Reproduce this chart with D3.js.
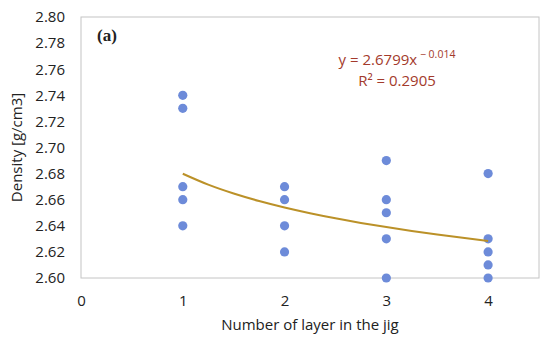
<!DOCTYPE html>
<html>
<head>
<meta charset="utf-8">
<script src="https://cdn.jsdelivr.net/npm/d3@7"></script>
<style>
  body { margin: 0; background: #fff; }
</style>
</head>
<body>
<div id="chart"></div>
<script>
// layer number and measured density
const LAYERS = [1, 1, 1, 1, 1, 2, 2, 2, 2, 3, 3, 3, 3, 3, 4, 4, 4, 4, 4];
const DENSITY = [2.74, 2.73, 2.67, 2.66, 2.64, 2.67, 2.66, 2.64, 2.62, 2.69, 2.66, 2.65, 2.63, 2.60, 2.68, 2.63, 2.62, 2.61, 2.60];
const X_TICKS = [0, 1, 2, 3, 4];
const Y_TICKS = [2.60, 2.62, 2.64, 2.66, 2.68, 2.70, 2.72, 2.74, 2.76, 2.78, 2.80];
const FIT_A = 2.6799, FIT_B = -0.014;
const FIT_X = [1, 1.25, 1.5, 1.75, 2, 2.25, 2.5, 2.75, 3, 3.25, 3.5, 3.75, 4];

const FONT = "'Open Sans', 'Noto Sans', sans-serif";
const W = 550, H = 344;
const M = {top: 17, right: 11, bottom: 66, left: 81};
const innerW = W - M.left - M.right, innerH = H - M.top - M.bottom;

const svg = d3.select("#chart").append("svg").attr("width", W).attr("height", H)
  .attr("font-family", FONT);
const g = svg.append("g").attr("transform", `translate(${M.left},${M.top})`);

const x = d3.scaleLinear().domain([0, 4.5]).range([0, innerW]);
const y = d3.scaleLinear().domain([2.60, 2.80]).range([innerH, 0]);

// plot frame
g.append("rect").attr("width", innerW).attr("height", innerH)
  .attr("fill", "none").attr("stroke", "#c4c4c4").attr("stroke-width", 1);

const xAxis = g.append("g").attr("transform", `translate(0,${innerH})`)
  .call(d3.axisBottom(x).tickValues(X_TICKS).tickFormat(d3.format("d")).tickSize(0).tickPadding(17));
const yAxis = g.append("g")
  .call(d3.axisLeft(y).tickValues(Y_TICKS).tickFormat(d3.format(".2f")).tickSize(0).tickPadding(16));
[xAxis, yAxis].forEach(a => {
  a.select(".domain").remove();
  a.selectAll("text").attr("font-size", 15).attr("fill", "#222").attr("font-family", FONT);
});

// points
g.selectAll("circle.pt").data(LAYERS.map((l, i) => ({l, d: DENSITY[i]})))
  .join("circle").attr("class", "pt")
  .attr("cx", d => x(d.l)).attr("cy", d => y(d.d)).attr("r", 4.6)
  .attr("fill", "#6d8bd9");

// power trendline
const line = d3.line().x(d => x(d)).y(d => y(FIT_A * Math.pow(d, FIT_B))).curve(d3.curveMonotoneX);
g.append("path").datum(FIT_X).attr("d", line)
  .attr("fill", "none").attr("stroke", "#bb9128").attr("stroke-width", 2);

// equation
const eq = g.append("text").attr("x", 316).attr("y", 48).attr("text-anchor", "middle")
  .attr("fill", "#a33a2c").attr("font-size", 15);
eq.append("tspan").text("y = 2.6799x");
eq.append("tspan").attr("dy", -7).attr("font-size", 10.5).text(" \u2212 0.014");
g.append("text").attr("x", 316).attr("y", 69).attr("text-anchor", "middle")
  .attr("fill", "#a33a2c").attr("font-size", 15).text("R\u00b2 = 0.2905");

// panel label
g.append("text").attr("x", 16).attr("y", 24)
  .attr("font-family", "'Liberation Serif', 'DejaVu Serif', serif")
  .attr("font-weight", "bold").attr("font-size", 17).attr("fill", "#222").text("(a)");

// axis titles
svg.append("text").attr("x", M.left + x(2.25)).attr("y", 330).attr("text-anchor", "middle")
  .attr("font-size", 15).attr("fill", "#222").text("Number of layer in the jig");
svg.append("text").attr("transform", `translate(22,${M.top + innerH / 2}) rotate(-90)`)
  .attr("text-anchor", "middle").attr("font-size", 15).attr("fill", "#222").text("Density [g/cm3]");
</script>
</body>
</html>
